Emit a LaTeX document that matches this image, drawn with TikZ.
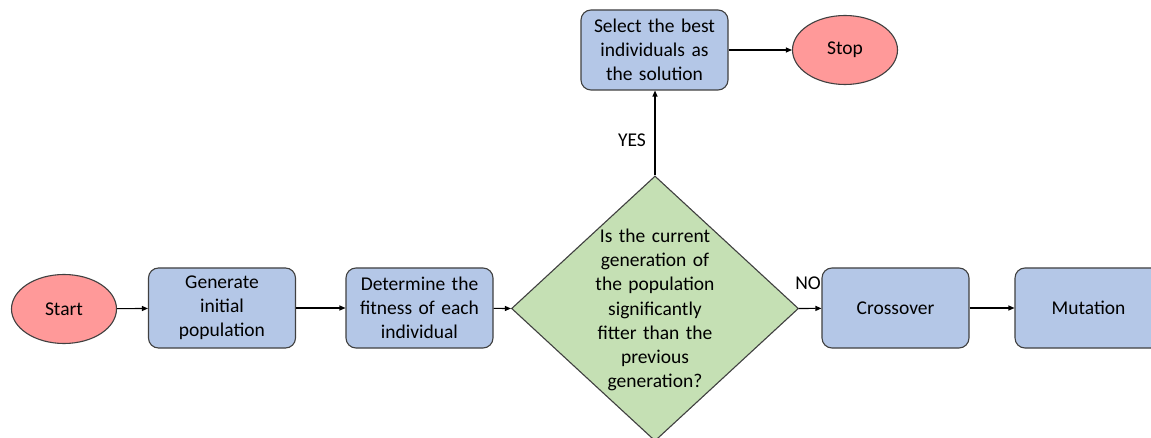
\documentclass[tikz,border=0pt]{standalone}
\usepackage{fontspec}
\setmainfont{Carlito}
\usetikzlibrary{shapes.geometric,arrows.meta}
\definecolor{boxblue}{HTML}{B4C7E7}
\definecolor{ovalred}{HTML}{FF9999}
\definecolor{diagreen}{HTML}{C5E0B4}
\definecolor{edgegray}{HTML}{404040}
\tikzset{
  procbox/.style={draw=edgegray, line width=1.1pt, fill=boxblue, rounded corners=10pt,
    minimum width=147pt, minimum height=80pt, text width=140pt, align=center, inner sep=0pt,
    font=\fontsize{19.5}{24}\selectfont},
  terminal/.style={draw=edgegray, line width=1.1pt, fill=ovalred, ellipse,
    minimum width=105pt, minimum height=69pt, inner sep=0pt,
    font=\fontsize{19.5}{24}\selectfont},
  decision/.style={draw=edgegray, line width=1.1pt, fill=diagreen, diamond,
    minimum width=287pt, minimum height=265pt, inner sep=0pt},
  dectext/.style={text width=180pt, align=center, inner sep=0pt,
    font=\fontsize{19.5}{24.3}\selectfont},
  flow/.style={-{Triangle[length=6pt,width=5pt]}, line width=1.1pt, draw=black},
  lbl/.style={font=\fontsize{19.5}{24}\selectfont, inner sep=0pt}
}
\begin{document}
\begin{tikzpicture}[x=1pt,y=-1pt]
\useasboundingbox (0,0) rectangle (1151,438);
\clip (0,0) rectangle (1151,438);
\fill[white] (0,0) rectangle (1151,438);
\node[terminal] (start) at (64,309) {Start};
\node[procbox] (gen) at (222,308) {Generate\\initial\\population};
\node[procbox] (fit) at (419.5,308) {Determine the\\fitness of each\\individual};
\node[decision] (dec) at (655,308.5) {};
\node[dectext] (dectxt) at (655,310) {Is the current\\generation of\\the population\\significantly\\fitter than the\\previous\\generation?};
\node[procbox] (cross) at (895.5,308) {Crossover};
\node[procbox] (mut) at (1088.5,308) {Mutation};
\node[procbox] (sel) at (654.5,50) {Select the best\\individuals as\\the solution};
\node[terminal] (stop) at (845,50) {Stop};
\node[lbl] (yes) at (632,140) {YES};
\node[lbl] (no) at (808,283) {NO};
\draw[flow] (start) -- (gen);
\draw[flow] (gen) -- (fit);
\draw[flow] (fit) -- (dec.west);
\draw[flow] (dec.east) -- (cross);
\draw[flow] (cross) -- (mut);
\draw[flow] (dec.north) -- (dec.north |- sel.south);
\draw[flow] (sel) -- (stop);
\end{tikzpicture}
\end{document}
